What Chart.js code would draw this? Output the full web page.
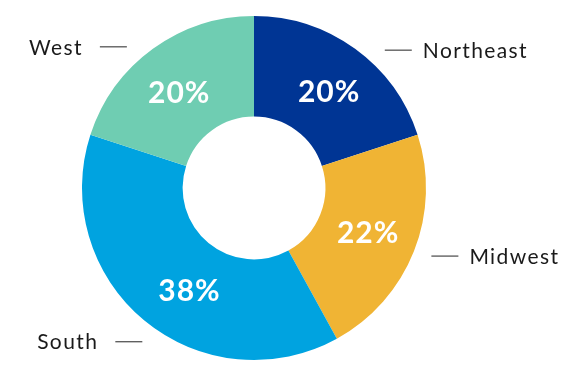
<!DOCTYPE html>
<html>
<head>
<meta charset="utf-8">
<script src="https://cdn.jsdelivr.net/npm/chart.js@4.4.1/dist/chart.umd.min.js"></script>
<style>
  html, body { margin: 0; padding: 0; background: #ffffff; }
  #wrap { width: 575px; height: 376px; position: relative; }
</style>
</head>
<body>
<div id="wrap"><canvas id="c" width="575" height="376"></canvas></div>
<script>
const categories = ["Northeast", "Midwest", "South", "West"];
const shares = [20, 22, 38, 20];
const pctLabels = ["20%", "22%", "38%", "20%"];
const sliceColors = ["#003594", "#F0B434", "#00A3E0", "#6FCDB2"];

const FONT = "Lato, 'Open Sans', sans-serif";

const labelPlugin = {
  id: 'sliceLabels',
  afterDatasetsDraw(chart, args, opts) {
    const ctx = chart.ctx;
    const meta = chart.getDatasetMeta(0);
    meta.data.forEach((arc, i) => {
      const p = arc.getProps(['x', 'y', 'startAngle', 'endAngle', 'innerRadius', 'outerRadius'], true);
      const mid = (p.startAngle + p.endAngle) / 2 + (opts.pctShift[i] || 0) * Math.PI / 180;
      const rm = (p.innerRadius + p.outerRadius) / 2;
      // percentage text
      ctx.save();
      ctx.fillStyle = '#ffffff';
      ctx.font = 'bold 30px ' + FONT;
      ctx.letterSpacing = '1px';
      ctx.textAlign = 'center';
      ctx.textBaseline = 'middle';
      ctx.fillText(pctLabels[i], p.x + rm * Math.cos(mid) + 1, p.y + rm * Math.sin(mid) + 1);
      ctx.restore();

      // outside category label with short leader
      const a = (opts.outerAngle[i] - 90) * Math.PI / 180;
      const r = p.outerRadius + opts.gap;
      const lx = p.x + r * Math.cos(a);
      const ly = p.y + r * Math.sin(a);
      const right = Math.cos(a) >= 0;
      const len = 27;
      ctx.save();
      ctx.strokeStyle = '#555555';
      ctx.lineWidth = 1.3;
      ctx.beginPath();
      if (right) { ctx.moveTo(lx, ly); ctx.lineTo(lx + len, ly); }
      else { ctx.moveTo(lx, ly); ctx.lineTo(lx - len, ly); }
      ctx.stroke();
      ctx.fillStyle = '#1a1a1a';
      ctx.font = '21px ' + FONT;
      ctx.letterSpacing = '1.4px';
      ctx.textBaseline = 'middle';
      ctx.textAlign = right ? 'left' : 'right';
      ctx.fillText(categories[i], right ? lx + len + 11 : lx - len - 17, ly + 1);
      ctx.restore();
    });
  }
};

new Chart(document.getElementById('c'), {
  type: 'doughnut',
  data: {
    labels: categories,
    datasets: [{
      data: shares,
      backgroundColor: sliceColors,
      borderWidth: 0,
      hoverOffset: 0
    }]
  },
  options: {
    responsive: false,
    animation: false,
    cutout: '41.5%',
    rotation: 0,
    layout: { padding: { top: 16, bottom: 16, left: 0, right: 67 } },
    plugins: {
      legend: { display: false },
      tooltip: { enabled: false },
      sliceLabels: {
        pctShift: [1.5, 0, -7, -2.5],
        outerAngle: [43.5, 111, 216, 318],
        gap: 18
      }
    }
  },
  plugins: [labelPlugin]
});
</script>
</body>
</html>
